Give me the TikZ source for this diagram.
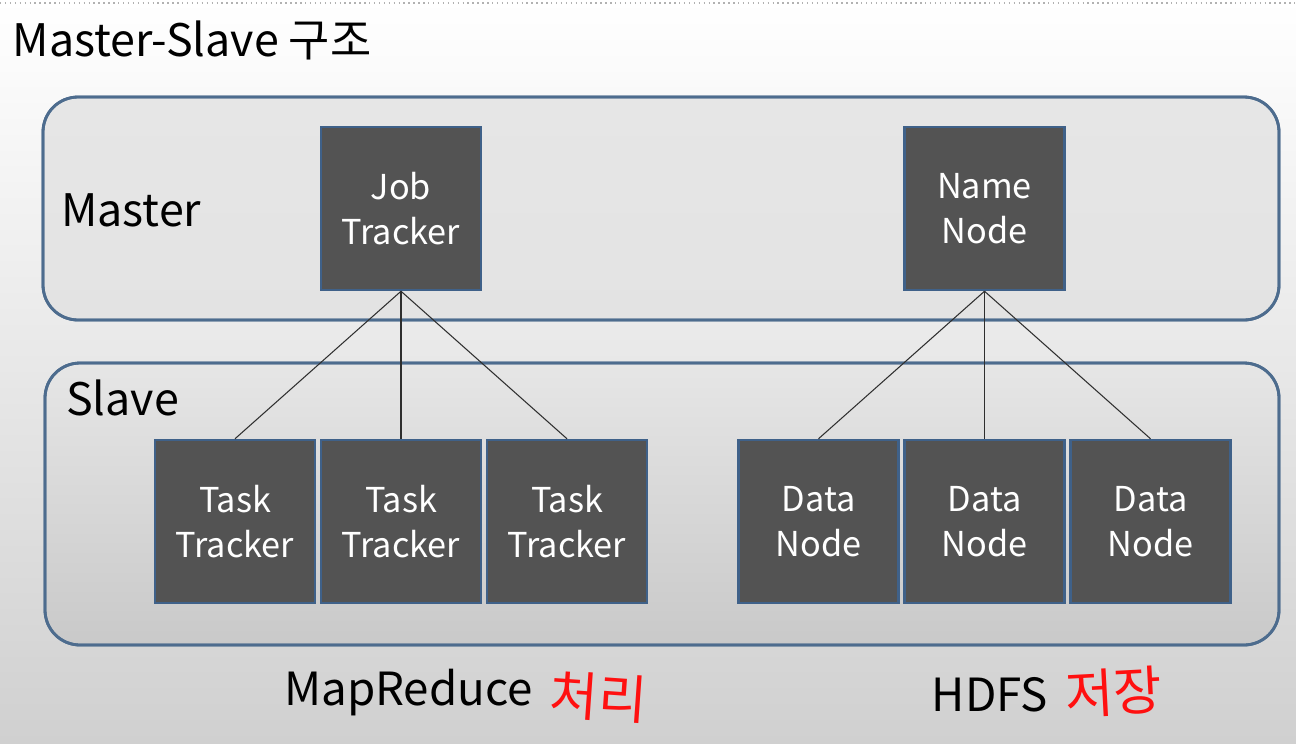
\documentclass[tikz,border=0pt]{standalone}
\usepackage{fontspec}
\setmainfont{Noto Sans CJK KR}
\usetikzlibrary{positioning}

\definecolor{unitfill}{HTML}{535353}
\definecolor{unitedge}{HTML}{3F6189}
\definecolor{tieredge}{HTML}{4D6C8E}
\definecolor{tiertop}{HTML}{E6E6E6}
\definecolor{tierbottom}{HTML}{C9C9C9}
\definecolor{bgbottom}{HTML}{D0D0D0}
\definecolor{linkcol}{HTML}{2E2E2E}
\definecolor{penred}{HTML}{FF1010}

\tikzset{
  unit/.style={draw=unitedge, line width=1.4pt, fill=unitfill, text=white,
    minimum width=3.2cm, minimum height=3.26cm, inner sep=0pt, align=center,
    font=\fontsize{19.5}{25.5}\selectfont},
  tier/.style={draw=tieredge, line width=1.6pt, rounded corners=0.7cm},
  tierlabel/.style={anchor=west, font=\fontsize{25.5}{30}\selectfont},
  caption/.style={font=\fontsize{26}{30}\selectfont},
  pen/.style={text=penred, font=\fontsize{30}{34}\selectfont},
}

\begin{document}
\begin{tikzpicture}[edge from parent/.style={draw=linkcol, line width=0.6pt},
  edge from parent path={(\tikzparentnode.south) -- (\tikzchildnode.north)}]
	% background
	\useasboundingbox (0,0) rectangle (25.92,-14.86);
	\shade[top color=white, bottom color=bgbottom] (0,0) rectangle (25.92,-14.86);
	\draw[gray!60, dotted, line width=0.8pt] (0,-0.06) -- (25.92,-0.06);
	\node[anchor=west, font=\fontsize{25.5}{30}\selectfont] (title) at (0.13,-0.8) {Master-Slave 구조};

	% tiers
	\shade[tier, top color=tiertop, bottom color=tiertop!90!tierbottom] (0.86,-1.94) rectangle (25.58,-6.4);
	\draw[tier] (0.86,-1.94) rectangle (25.58,-6.4);
	\shade[tier, top color=tiertop, bottom color=tierbottom] (0.9,-7.26) rectangle (25.58,-12.9);
	\draw[tier] (0.9,-7.26) rectangle (25.58,-12.9);
	\node[tierlabel] (master) at (1.1,-4.2) {Master};
	\node[tierlabel] (slave) at (1.2,-7.96) {Slave};

	% MapReduce
	\node[unit] (job) at (8.02,-4.17) {Job\\Tracker}
		[level distance=6.26cm, sibling distance=3.32cm]
		child {node[unit] (task1) {Task\\Tracker}}
		child {node[unit] (task2) {Task\\Tracker}}
		child {node[unit] (task3) {Task\\Tracker}};

	% HDFS
	\node[unit] (name) at (19.69,-4.17) {Name\\Node}
		[level distance=6.26cm, sibling distance=3.32cm]
		child {node[unit] (data1) {Data\\Node}}
		child {node[unit] (data2) {Data\\Node}}
		child {node[unit] (data3) {Data\\Node}};

	% captions
	\node[caption] (mapreduce) at (8.17,-13.86) {MapReduce};
	\node[pen, right=0.1cm of mapreduce, rotate=-4] (proc) {처리};
	\node[caption] (hdfs) at (19.8,-13.9) {HDFS};
	\node[pen, right=0.1cm of hdfs, rotate=3] (store) {저장};
\end{tikzpicture}
\end{document}
